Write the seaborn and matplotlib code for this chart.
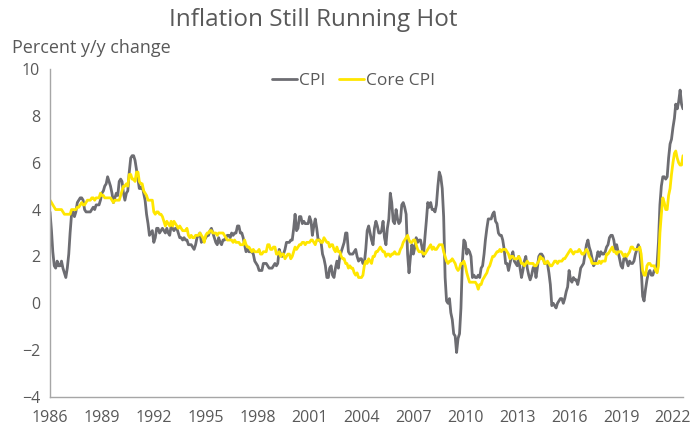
import pandas as pd
import seaborn as sns
import matplotlib.pyplot as plt
import matplotlib.dates as mdates

# monthly y/y % change, Jan 1986 - Aug 2022
cpi = [
    3.9, 3.1, 2.2, 1.6, 1.5, 1.8, 1.6, 1.6, 1.8, 1.5, 1.3, 1.1,  # 1986
    1.5, 2.1, 3.0, 3.8, 3.9, 3.7, 3.9, 4.3, 4.4, 4.5, 4.5, 4.4,  # 1987
    4.0, 3.9, 3.9, 3.9, 3.9, 4.0, 4.1, 4.0, 4.2, 4.2, 4.2, 4.4,  # 1988
    4.7, 4.8, 5.0, 5.1, 5.4, 5.2, 5.0, 4.7, 4.3, 4.5, 4.7, 4.6,  # 1989
    5.2, 5.3, 5.2, 4.7, 4.4, 4.7, 4.8, 5.6, 6.2, 6.3, 6.3, 6.1,  # 1990
    5.7, 5.3, 4.9, 4.9, 5.0, 4.7, 4.4, 3.8, 3.4, 2.9, 3.0, 3.1,  # 1991
    2.6, 2.8, 3.2, 3.2, 3.0, 3.1, 3.2, 3.1, 3.0, 3.2, 3.0, 2.9,  # 1992
    3.3, 3.2, 3.1, 3.2, 3.2, 3.0, 2.8, 2.8, 2.7, 2.8, 2.7, 2.7,  # 1993
    2.5, 2.5, 2.5, 2.4, 2.3, 2.5, 2.8, 2.9, 3.0, 2.6, 2.7, 2.7,  # 1994
    2.8, 2.9, 2.9, 3.1, 3.2, 3.0, 2.8, 2.6, 2.5, 2.8, 2.6, 2.5,  # 1995
    2.7, 2.7, 2.8, 2.9, 2.9, 2.8, 3.0, 2.9, 3.0, 3.0, 3.3, 3.3,  # 1996
    3.0, 3.0, 2.8, 2.5, 2.2, 2.3, 2.2, 2.2, 2.2, 2.1, 1.8, 1.7,  # 1997
    1.6, 1.4, 1.4, 1.4, 1.7, 1.7, 1.7, 1.6, 1.5, 1.5, 1.5, 1.6,  # 1998
    1.7, 1.6, 1.7, 2.3, 2.1, 2.0, 2.1, 2.3, 2.6, 2.6, 2.6, 2.7,  # 1999
    2.7, 3.2, 3.8, 3.1, 3.2, 3.7, 3.7, 3.4, 3.5, 3.4, 3.4, 3.4,  # 2000
    3.7, 3.5, 2.9, 3.3, 3.6, 3.2, 2.7, 2.7, 2.6, 2.1, 1.9, 1.6,  # 2001
    1.1, 1.1, 1.5, 1.6, 1.2, 1.1, 1.5, 1.8, 1.5, 2.0, 2.2, 2.4,  # 2002
    2.6, 3.0, 3.0, 2.2, 2.1, 2.1, 2.1, 2.2, 2.3, 2.0, 1.8, 1.9,  # 2003
    1.9, 1.7, 1.7, 2.3, 3.1, 3.3, 3.0, 2.7, 2.5, 3.2, 3.5, 3.3,  # 2004
    3.0, 3.0, 3.1, 3.5, 2.8, 2.5, 3.2, 3.6, 4.7, 4.3, 3.5, 3.4,  # 2005
    4.0, 3.6, 3.4, 3.5, 4.2, 4.3, 4.1, 3.8, 2.1, 1.3, 2.0, 2.5,  # 2006
    2.1, 2.4, 2.8, 2.6, 2.7, 2.7, 2.4, 2.0, 2.8, 3.5, 4.3, 4.1,  # 2007
    4.3, 4.0, 4.0, 3.9, 4.2, 5.0, 5.6, 5.4, 4.9, 3.7, 1.1, 0.1,  # 2008
    0.0, 0.2, -0.4, -0.7, -1.3, -1.4, -2.1, -1.5, -1.3, -0.2, 1.8, 2.7,  # 2009
    2.6, 2.1, 2.3, 2.2, 2.0, 1.1, 1.2, 1.1, 1.1, 1.2, 1.1, 1.5,  # 2010
    1.6, 2.1, 2.7, 3.2, 3.6, 3.6, 3.6, 3.8, 3.9, 3.5, 3.4, 3.0,  # 2011
    2.9, 2.9, 2.7, 2.3, 1.7, 1.7, 1.4, 1.7, 2.0, 2.2, 1.8, 1.7,  # 2012
    1.6, 2.0, 1.5, 1.1, 1.4, 1.8, 2.0, 1.5, 1.2, 1.0, 1.2, 1.5,  # 2013
    1.6, 1.1, 1.5, 2.0, 2.1, 2.1, 2.0, 1.7, 1.7, 1.7, 1.3, 0.8,  # 2014
    -0.1, 0.0, -0.1, -0.2, 0.0, 0.1, 0.2, 0.2, 0.0, 0.2, 0.5, 0.7,  # 2015
    1.4, 1.0, 0.9, 1.1, 1.0, 1.0, 0.8, 1.1, 1.5, 1.6, 1.7, 2.1,  # 2016
    2.5, 2.7, 2.4, 2.2, 1.9, 1.6, 1.7, 1.9, 2.2, 2.0, 2.2, 2.1,  # 2017
    2.1, 2.2, 2.4, 2.5, 2.8, 2.9, 2.9, 2.7, 2.3, 2.5, 2.2, 1.9,  # 2018
    1.6, 1.5, 1.9, 2.0, 1.8, 1.6, 1.8, 1.7, 1.7, 1.8, 2.1, 2.3,  # 2019
    2.5, 2.3, 1.5, 0.3, 0.1, 0.6, 1.0, 1.3, 1.4, 1.2, 1.2, 1.4,  # 2020
    1.4, 1.7, 2.6, 4.2, 5.0, 5.4, 5.4, 5.3, 5.4, 6.2, 6.8, 7.0,  # 2021
    7.5, 7.9, 8.5, 8.3, 8.6, 9.1, 8.5, 8.3,                      # 2022
]

core_cpi = [
    4.4, 4.3, 4.2, 4.1, 4.0, 4.0, 4.0, 4.0, 4.0, 3.9, 3.8, 3.8,  # 1986
    3.8, 3.8, 3.8, 4.0, 4.0, 4.0, 4.0, 4.1, 4.1, 4.2, 4.3, 4.2,  # 1987
    4.2, 4.3, 4.4, 4.4, 4.4, 4.5, 4.5, 4.4, 4.5, 4.5, 4.5, 4.7,  # 1988
    4.6, 4.6, 4.5, 4.5, 4.5, 4.5, 4.5, 4.4, 4.3, 4.4, 4.4, 4.4,  # 1989
    4.4, 4.6, 4.8, 5.0, 5.0, 5.1, 5.0, 5.5, 5.5, 5.3, 5.3, 5.2,  # 1990
    5.6, 5.6, 5.2, 5.1, 5.1, 4.8, 4.7, 4.6, 4.4, 4.4, 4.4, 4.4,  # 1991
    3.9, 3.8, 3.9, 3.9, 3.8, 3.8, 3.7, 3.5, 3.3, 3.5, 3.4, 3.3,  # 1992
    3.5, 3.3, 3.5, 3.4, 3.3, 3.2, 3.3, 3.2, 3.1, 3.1, 3.1, 3.2,  # 1993
    2.9, 2.8, 2.9, 2.8, 2.8, 2.9, 2.9, 2.9, 3.0, 2.9, 2.8, 2.6,  # 1994
    2.9, 3.0, 3.0, 3.1, 3.1, 3.0, 3.0, 3.0, 2.9, 3.0, 3.0, 3.0,  # 1995
    3.0, 2.9, 2.8, 2.7, 2.7, 2.7, 2.7, 2.6, 2.7, 2.6, 2.6, 2.6,  # 1996
    2.5, 2.5, 2.5, 2.7, 2.5, 2.4, 2.4, 2.3, 2.2, 2.3, 2.2, 2.2,  # 1997
    2.2, 2.3, 2.1, 2.1, 2.2, 2.2, 2.2, 2.5, 2.5, 2.3, 2.3, 2.4,  # 1998
    2.4, 2.1, 2.1, 2.2, 2.0, 2.1, 2.1, 1.9, 2.0, 2.1, 2.1, 1.9,  # 1999
    2.0, 2.2, 2.4, 2.3, 2.4, 2.5, 2.5, 2.6, 2.6, 2.5, 2.6, 2.6,  # 2000
    2.6, 2.7, 2.7, 2.6, 2.5, 2.7, 2.7, 2.7, 2.6, 2.6, 2.8, 2.7,  # 2001
    2.6, 2.6, 2.4, 2.5, 2.5, 2.3, 2.2, 2.4, 2.2, 2.2, 2.0, 1.9,  # 2002
    1.9, 1.7, 1.7, 1.5, 1.6, 1.5, 1.5, 1.3, 1.2, 1.3, 1.1, 1.1,  # 2003
    1.1, 1.2, 1.6, 1.8, 1.7, 1.9, 1.8, 1.7, 2.0, 2.0, 2.2, 2.2,  # 2004
    2.3, 2.4, 2.3, 2.2, 2.2, 2.0, 2.1, 2.1, 2.0, 2.1, 2.1, 2.2,  # 2005
    2.1, 2.1, 2.1, 2.3, 2.4, 2.6, 2.7, 2.8, 2.9, 2.7, 2.6, 2.6,  # 2006
    2.7, 2.7, 2.5, 2.3, 2.2, 2.2, 2.2, 2.1, 2.1, 2.2, 2.3, 2.4,  # 2007
    2.5, 2.3, 2.4, 2.3, 2.3, 2.4, 2.5, 2.5, 2.5, 2.2, 2.0, 1.8,  # 2008
    1.7, 1.8, 1.8, 1.9, 1.8, 1.7, 1.5, 1.4, 1.5, 1.7, 1.7, 1.8,  # 2009
    1.6, 1.3, 1.1, 0.9, 0.9, 0.9, 0.9, 0.9, 0.8, 0.6, 0.8, 0.8,  # 2010
    1.0, 1.1, 1.2, 1.3, 1.5, 1.6, 1.8, 2.0, 2.0, 2.1, 2.2, 2.2,  # 2011
    2.3, 2.2, 2.3, 2.3, 2.3, 2.2, 2.1, 1.9, 2.0, 2.0, 1.9, 1.9,  # 2012
    1.9, 2.0, 1.9, 1.7, 1.7, 1.6, 1.7, 1.8, 1.7, 1.7, 1.7, 1.7,  # 2013
    1.6, 1.6, 1.7, 1.8, 2.0, 1.9, 1.9, 1.7, 1.7, 1.8, 1.7, 1.6,  # 2014
    1.6, 1.7, 1.8, 1.8, 1.7, 1.8, 1.8, 1.8, 1.9, 1.9, 2.0, 2.1,  # 2015
    2.2, 2.3, 2.2, 2.1, 2.2, 2.2, 2.2, 2.3, 2.2, 2.1, 2.1, 2.2,  # 2016
    2.3, 2.2, 2.0, 1.9, 1.7, 1.7, 1.7, 1.7, 1.7, 1.8, 1.7, 1.8,  # 2017
    1.8, 1.8, 2.1, 2.1, 2.2, 2.3, 2.4, 2.2, 2.2, 2.1, 2.2, 2.2,  # 2018
    2.2, 2.1, 2.0, 2.1, 2.0, 2.1, 2.2, 2.4, 2.4, 2.3, 2.3, 2.3,  # 2019
    2.3, 2.4, 2.1, 1.4, 1.2, 1.2, 1.6, 1.7, 1.7, 1.6, 1.6, 1.6,  # 2020
    1.4, 1.3, 1.6, 3.0, 3.8, 4.5, 4.3, 4.0, 4.0, 4.6, 4.9, 5.5,  # 2021
    6.0, 6.4, 6.5, 6.2, 6.0, 5.9, 5.9, 6.3,                      # 2022
]

dates = pd.date_range("1986-01-01", periods=len(cpi), freq="MS")
tick_years = list(range(1986, 2023, 3))

df = pd.concat([
    pd.DataFrame({"date": dates, "value": cpi, "series": "CPI"}),
    pd.DataFrame({"date": dates, "value": core_cpi, "series": "Core CPI"}),
])

sns.set_style("white")
plt.rcParams["font.family"] = ["Open Sans", "DejaVu Sans"]

fig = plt.figure(figsize=(6.96, 4.28), dpi=100)
ax = fig.add_axes([50 / 696, 31 / 428, 633 / 696, 328 / 428])

sns.lineplot(data=df, x="date", y="value", hue="series",
             palette={"CPI": "#6d6d72", "Core CPI": "#ffe600"},
             linewidth=2.0, ax=ax)

ax.set_xlim(dates[0], dates[-1])
ax.set_ylim(-4, 10)
ax.set_yticks(range(-4, 11, 2))
ax.set_xticks([pd.Timestamp(f"{y}-01-01") for y in tick_years])
ax.xaxis.set_major_formatter(mdates.DateFormatter("%Y"))
ax.set_xlabel("")
ax.set_ylabel("")

for side in ["top", "right"]:
    ax.spines[side].set_visible(False)
for side in ["left", "bottom"]:
    ax.spines[side].set_color("#a6a6a6")
    ax.spines[side].set_linewidth(1.0)
ax.tick_params(axis="both", which="major", direction="out", length=4,
               width=1.0, color="#a6a6a6", labelcolor="#595959",
               labelsize=11.5, pad=3)
ax.tick_params(axis="x", pad=5)

ax.legend(loc="upper center", bbox_to_anchor=(0.48, 1.035), ncol=2,
          frameon=False, handlelength=1.4, handletextpad=0.15,
          columnspacing=0.8, fontsize=12.5, labelcolor="#595959")

fig.text(0.45, 0.953, "Inflation Still Running Hot", ha="center",
         va="center", fontsize=17.5, color="#595959")
fig.text(12 / 696, 1 - 48 / 428, "Percent y/y change", ha="left",
         va="center", fontsize=13, color="#595959")

plt.savefig("out.png", dpi=100)
plt.close(fig)
